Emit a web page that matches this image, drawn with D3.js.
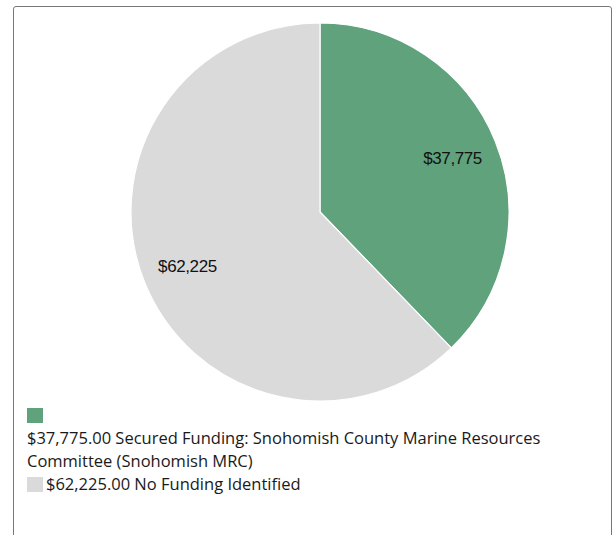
<!DOCTYPE html>
<html lang="en">
    <head>
        <title>Funding</title>
        <meta charset="utf-8">
        <script src="https://d3js.org/d3.v7.min.js"></script>
        <style>
            * {
                margin: 0;
                padding: 0;
            }
            body {
                width: 613px;
                height: 535px;
                background-color: white;
                overflow: hidden;
            }
            #box {
                position: absolute;
                left: 13px;
                top: 6px;
                width: 597px;
                height: 560px;
                border: 1px solid #777;
                border-radius: 3px;
            }
            .legend {
                position: absolute;
                left: 27px;
                top: 403px;
                width: 560px;
                font-family: "Open Sans", sans-serif;
                font-size: 16.5px;
                line-height: 23px;
                color: #1a1a1a;
            }
            .swatch {
                display: inline-block;
                width: 16px;
                height: 15px;
                vertical-align: -2px;
                margin-right: 3px;
            }
        </style>
    </head>
    <body>
        <div id="box"></div>
        <svg id="chart" width="613" height="535" style="position:absolute;left:0;top:0"></svg>
        <div class="legend" id="legend"></div>
        <script>
            const categories = ["Secured Funding: Snohomish County Marine Resources Committee (Snohomish MRC)", "No Funding Identified"];
            const values = [37775, 62225];
            const colors = ["#5fa27b", "#dadada"];

            const cx = 320, cy = 212, radius = 189;

            const svg = d3.select("#chart");
            const g = svg.append("g").attr("transform", `translate(${cx}, ${cy})`);

            const pie = d3.pie().sort(null);
            const arcs = pie(values);

            const arc = d3.arc().innerRadius(0).outerRadius(radius);
            const labelArc = d3.arc().innerRadius(143).outerRadius(143);

            g.selectAll("path")
                .data(arcs)
                .enter()
                .append("path")
                .attr("d", arc)
                .attr("fill", (d, i) => colors[i])
                .attr("stroke", "white")
                .attr("stroke-width", 1.2);

            g.selectAll("text")
                .data(arcs)
                .enter()
                .append("text")
                .attr("transform", d => `translate(${labelArc.centroid(d)})`)
                .attr("text-anchor", "middle")
                .attr("dy", "0.35em")
                .attr("font-family", "Liberation Sans, Arial, sans-serif")
                .attr("font-size", "17px")
                .attr("letter-spacing", "-0.4px")
                .attr("fill", "#111")
                .text(d => "$" + d3.format(",")(d.data));

            const legend = d3.select("#legend");
            legend.selectAll("div")
                .data(values)
                .enter()
                .append("div")
                .html((d, i) => {
                    const sw = `<span class="swatch" style="background:${colors[i]}"></span>`;
                    const txt = `$${d3.format(",.2f")(d)} ${categories[i]}`;
                    return i === 0 ? sw + "<br>" + txt : sw + txt;
                });
        </script>
    </body>
</html>
